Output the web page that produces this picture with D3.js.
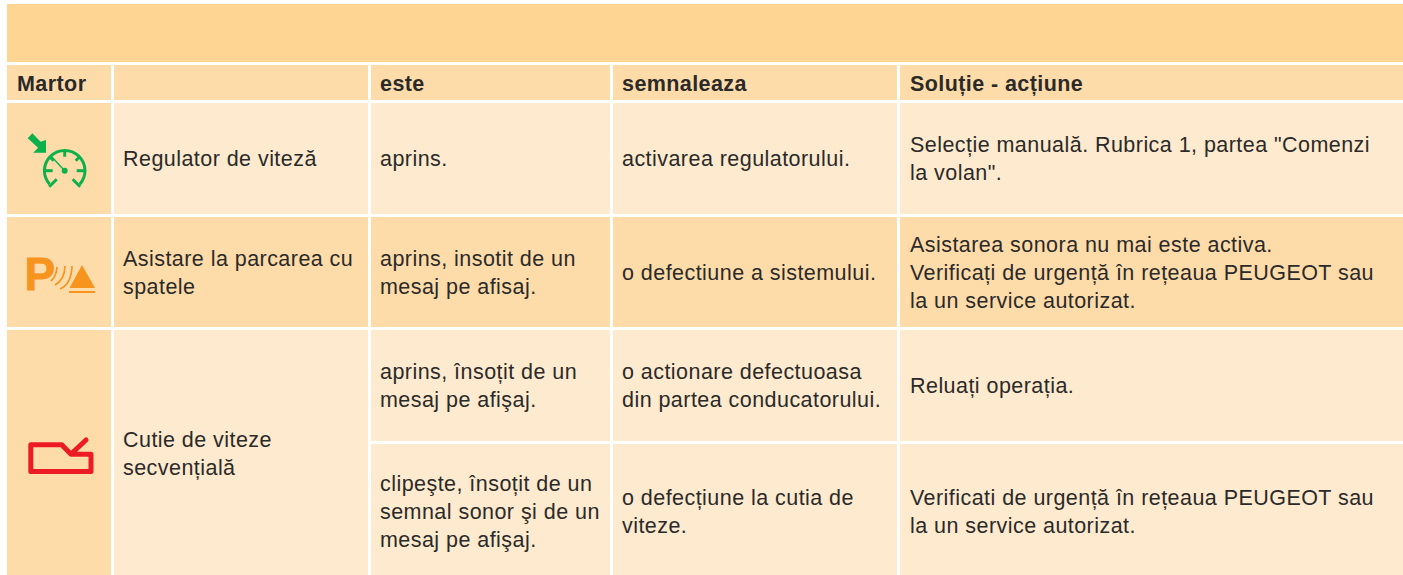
<!DOCTYPE html>
<html>
<head>
<meta charset="utf-8">
<script src="https://cdnjs.cloudflare.com/ajax/libs/d3/7.8.5/d3.min.js"></script>
<style>
html, body { margin: 0; padding: 0; background: #fff; overflow: hidden; }
text { font-family: "Liberation Sans", Arial, sans-serif; fill: #2b2a29; }
</style>
</head>
<body>
<div id="chart"></div>
<script>
var width = 1403,
    height = 575;

// column edges and row edges of the table
var colEdges = [7, 111, 114, 368, 371, 610, 613, 897, 900, 1403];
var rowEdges = [4, 62, 65, 100, 103, 214, 217, 327, 330, 441, 444, 575];

var dark = "#fedcaa", light = "#feebcf", band = "#fed592";

var headers = ["Martor", "", "este", "semnaleaza", "Soluție - acțiune"];

var names = [["Regulator de viteză"], ["Asistare la parcarea cu", "spatele"], ["Cutie de viteze", "secvențială"]];

var este = [["aprins."],
            ["aprins, insotit de un", "mesaj pe afisaj."],
            ["aprins, însoțit de un", "mesaj pe afişaj."],
            ["clipeşte, însoțit de un", "semnal sonor şi de un", "mesaj pe afişaj."]];

var semnaleaza = [["activarea regulatorului."],
                  ["o defectiune a sistemului."],
                  ["o actionare defectuoasa", "din partea conducatorului."],
                  ["o defecțiune la cutia de", "viteze."]];

var solutie = [["Selecție manuală. Rubrica 1, partea \"Comenzi", "la volan\"."],
               ["Asistarea sonora nu mai este activa.", "Verificați de urgență în rețeaua PEUGEOT sau", "la un service autorizat."],
               ["Reluați operația."],
               ["Verificati de urgență în rețeaua PEUGEOT sau", "la un service autorizat."]];

// which fill each body row has
var rowFill = [light, dark, light, light];

var svg = d3.select("#chart")
  .append("svg")
  .attr("width", width)
  .attr("height", height)
  .style("display", "block");

function cell(c, r, c2, r2, fill) {
  svg.append("rect")
    .attr("x", colEdges[c * 2])
    .attr("y", rowEdges[r * 2])
    .attr("width", colEdges[(c2 || c) * 2 + 1] - colEdges[c * 2])
    .attr("height", rowEdges[(r2 || r) * 2 + 1] - rowEdges[r * 2])
    .attr("fill", fill);
}

function label(lines, x, cy, bold) {
  var lh = 28;
  var y0 = cy - (lines.length - 1) * lh / 2 + 7;
  var t = svg.append("text");
  lines.forEach(function(l, i) {
    t.append("tspan")
      .attr("x", x)
      .attr("y", y0 + i * lh)
      .text(l);
  });
  t.style("font-size", bold ? "21.5px" : "21.5px")
   .style("font-weight", bold ? "bold" : "normal")
   .style("letter-spacing", bold ? "0.42px" : "0.45px");
}

function midRow(r, r2) {
  return (rowEdges[r * 2] + rowEdges[(r2 || r) * 2 + 1]) / 2;
}

// title band
cell(0, 0, 4, 0, band);

// header row
headers.forEach(function(h, i) {
  cell(i, 1, i, 1, dark);
  if (h) label([h], colEdges[i * 2] + (i == 0 ? 10 : i == 4 ? 10 : 9), midRow(1) + 1, true);
});

// first two columns
cell(0, 2, 0, 2, dark);
cell(0, 3, 0, 3, dark);
cell(0, 4, 0, 5, dark);
cell(1, 2, 1, 2, light);
cell(1, 3, 1, 3, dark);
cell(1, 4, 1, 5, light);

label(names[0], colEdges[2] + 9, midRow(2), false);
label(names[1], colEdges[2] + 9, midRow(3) + 1, false);
label(names[2], colEdges[2] + 9, midRow(4, 5) + 1, false);

// the three text columns
var rowShift = [0, 1, 0, 2];
[este, semnaleaza, solutie].forEach(function(col, k) {
  col.forEach(function(lines, j) {
    cell(k + 2, j + 2, k + 2, j + 2, rowFill[j]);
    label(lines, colEdges[(k + 2) * 2] + (k == 2 ? 10 : 9), midRow(j + 2) + rowShift[j], false);
  });
});

// icons
var green = "#0db14b", orange = "#f7941d", red = "#ed1c24";

var g1 = svg.append("g").attr("transform", "translate(64.7,170.7)");
var arc = d3.arc().innerRadius(18.8).outerRadius(21.8).startAngle(-2.3).endAngle(2.3);
g1.append("path").attr("d", arc()).attr("fill", green);
g1.append("circle").attr("r", 3).attr("fill", green);
[[-20, 0, -12, 0], [12, 0, 20, 0], [0, -20, 0, -14], [-15, -14, -11, -10], [15, -14, 11, -10],
 [-15.5, 16, -8, 8.5], [15.5, 16, 8, 8.5]].forEach(function(d) {
  g1.append("line")
    .attr("x1", d[0]).attr("y1", d[1]).attr("x2", d[2]).attr("y2", d[3])
    .attr("stroke", green).attr("stroke-width", 3);
});
g1.append("line").attr("x1", 0).attr("y1", 0).attr("x2", -13).attr("y2", -14)
  .attr("stroke", green).attr("stroke-width", 1.4);
svg.append("path")
  .attr("d", "M27.7,138.3L32.3,133.3L40.7,141.7L46,140V152.7H33.3L38,147.7Z")
  .attr("fill", green);

var g2 = svg.append("g").attr("fill", orange);
g2.append("text")
  .attr("x", 24.5).attr("y", 290)
  .style("font-size", "46px").style("font-weight", "bold").style("fill", orange)
  .style("stroke", orange).style("stroke-width", 0.8)
  .text("P");
[[51, 281, 57, 267], [55, 285, 65, 266], [60, 289, 72, 266]].forEach(function(d) {
  g2.append("path")
    .attr("d", "M" + d[0] + "," + d[1] + "Q" + (d[2] - 0.5) + "," + (d[1] - 5) + " " + d[2] + "," + d[3])
    .attr("fill", "none").attr("stroke", orange).attr("stroke-width", 1.7);
});
g2.append("path").attr("d", "M69.5,288L82,265L95,288Z");
g2.append("rect").attr("x", 69).attr("y", 291).attr("width", 26).attr("height", 2);

svg.append("path")
  .attr("d", "M30.8,444.8V471.5H91V454.3H71L61.7,444.8ZM71,454L86,440")
  .attr("fill", "none").attr("stroke", red).attr("stroke-width", 5)
  .attr("stroke-linejoin", "round").attr("stroke-linecap", "round");
</script>
</body>
</html>
